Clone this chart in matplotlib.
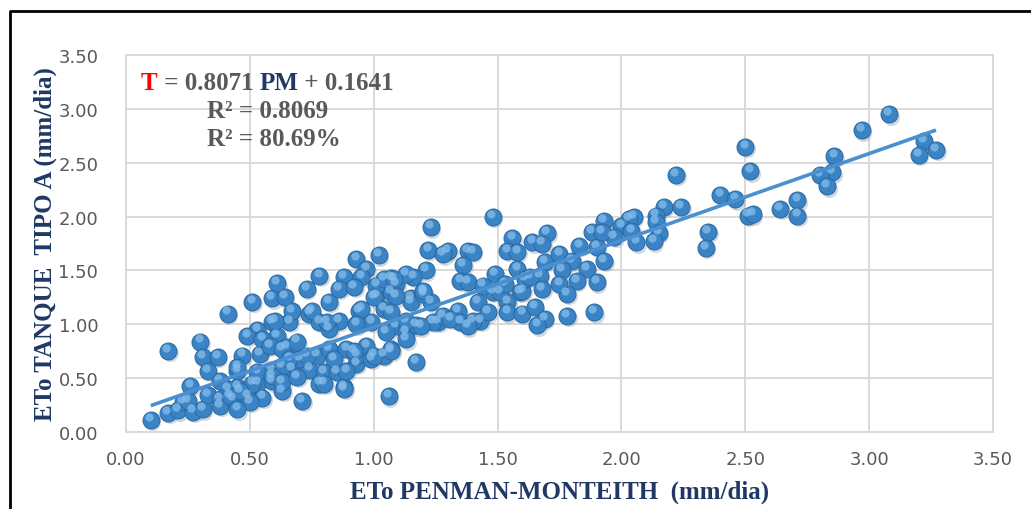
import matplotlib.pyplot as plt
import matplotlib.transforms as mtransforms
from matplotlib.lines import Line2D
import numpy as np

# ETo Penman-Monteith (x) vs ETo Tanque Tipo A (y), mm/dia
pm = [
    0.10, 0.17, 0.21, 0.23, 0.27, 0.31, 0.33, 0.38, 0.38, 0.43, 0.45, 0.49, 0.53, 0.55,
    0.59, 0.63, 0.71, 0.67, 0.78, 0.74, 0.17, 0.30, 0.31, 0.37, 0.33, 0.41, 0.51, 0.59,
    0.53, 0.49, 0.59, 0.66, 0.67, 0.73, 0.74, 0.78, 0.47, 0.54, 0.45, 0.59, 0.63, 0.70,
    0.77, 0.61, 0.55, 0.65, 0.51, 0.41,
    0.26, 0.38, 0.25, 0.42, 0.50, 0.46, 0.45, 0.45, 0.53, 0.59, 0.63, 0.69, 0.88, 0.80,
    0.85, 0.93, 0.58, 0.63, 0.69, 0.66, 0.73, 0.82, 0.89, 0.84, 0.93, 0.97, 0.99, 1.07,
    1.04, 1.17, 1.06,
    0.64, 0.82, 1.01, 1.07, 1.09, 1.20, 1.23, 1.15, 0.75, 0.60, 0.86, 0.94, 0.99, 1.04,
    1.09, 1.13, 1.17, 1.26,
    1.02, 0.93, 0.97, 0.88, 0.95, 1.07, 0.78, 0.61, 0.86, 0.92, 1.01, 1.04,
    0.88, 0.89, 0.80, 1.07, 1.00, 0.92, 0.82, 0.95, 0.93, 1.05, 1.13, 1.13, 1.07, 1.15,
    1.20, 1.09, 1.00, 1.24, 1.19, 1.34, 1.35, 1.42, 1.43, 1.46, 1.40, 1.38, 1.54, 1.54,
    1.60, 1.59, 1.48, 0.81, 1.28, 1.31,
    1.48, 1.23, 1.56, 1.70, 1.64, 1.68, 1.54, 1.58, 1.22, 1.30, 1.28, 1.38, 1.40, 1.36,
    1.35, 1.38, 1.49, 1.58, 1.69, 1.75, 1.80, 1.83, 1.88, 1.93, 1.90, 1.93, 1.86, 1.76,
    1.82, 1.90, 1.60, 1.67, 1.78, 1.21, 1.16, 1.13, 1.08, 1.20, 1.44, 1.51,
    1.78, 1.89, 1.65, 1.69, 1.66, 1.61, 1.53, 1.63, 1.75, 1.68,
    2.05, 2.03, 2.00, 2.04, 2.06, 1.97, 1.92,
    3.08, 2.97, 3.22, 3.27, 3.20, 2.86, 2.50, 2.52, 2.85, 2.80, 2.83, 2.22, 2.17, 2.24,
    2.40, 2.46, 2.51, 2.53, 2.64, 2.71, 2.71, 2.35, 2.34, 2.14, 2.14, 2.15, 2.13,
]
tanque = [
    0.11, 0.18, 0.20, 0.28, 0.19, 0.21, 0.34, 0.31, 0.24, 0.31, 0.42, 0.33, 0.45, 0.32,
    0.47, 0.38, 0.29, 0.58, 0.45, 0.58, 0.75, 0.84, 0.70, 0.70, 0.57, 1.10, 1.21, 1.24,
    0.95, 0.89, 1.02, 1.02, 1.12, 1.33, 1.10, 1.02, 0.71, 0.72, 0.57, 0.58, 0.61, 0.68,
    0.71, 0.89, 0.86, 0.79, 0.45, 0.40,
    0.43, 0.47, 0.29, 0.33, 0.28, 0.38, 0.21, 0.60, 0.56, 0.52, 0.46, 0.51, 0.42, 0.56,
    0.56, 0.63, 0.80, 0.77, 0.84, 0.68, 0.71, 0.77, 0.77, 0.68, 0.71, 0.80, 0.68, 0.77,
    0.71, 0.65, 0.33,
    1.25, 1.21, 1.26, 1.30, 1.37, 1.30, 1.21, 1.24, 1.12, 1.03, 1.03, 1.12, 1.02, 1.14,
    0.98, 0.93, 0.99, 1.02,
    1.64, 1.61, 1.51, 1.44, 1.44, 1.43, 1.45, 1.38, 1.33, 1.35, 1.36, 1.42,
    0.40, 0.57, 0.45, 0.75, 0.71, 0.75, 0.96, 1.14, 1.00, 0.93, 0.86, 1.03, 1.11, 1.21,
    1.28, 1.26, 1.25, 1.02, 0.98, 1.12, 1.02, 1.21, 1.03, 1.11, 1.03, 0.98, 1.21, 1.11,
    1.10, 1.30, 1.30, 1.02, 1.08, 1.05,
    2.00, 1.90, 1.80, 1.85, 1.76, 1.75, 1.68, 1.67, 1.69, 1.68, 1.65, 1.68, 1.67, 1.55,
    1.40, 1.39, 1.47, 1.51, 1.58, 1.65, 1.59, 1.73, 1.86, 1.96, 1.72, 1.59, 1.51, 1.50,
    1.40, 1.39, 1.31, 1.45, 1.28, 1.50, 1.44, 1.47, 1.42, 1.31, 1.36, 1.30,
    1.08, 1.11, 1.16, 1.05, 0.99, 1.42, 1.37, 1.44, 1.37, 1.33,
    2.00, 1.98, 1.91, 1.87, 1.76, 1.81, 1.86,
    2.95, 2.80, 2.70, 2.62, 2.57, 2.56, 2.65, 2.42, 2.41, 2.39, 2.28, 2.39, 2.09, 2.09,
    2.20, 2.16, 2.01, 2.02, 2.07, 2.15, 2.01, 1.86, 1.71, 2.01, 1.95, 1.85, 1.77,
]
slope, intercept = 0.8071, 0.1641
ticks = [0.0, 0.5, 1.0, 1.5, 2.0, 2.5, 3.0, 3.5]

navy = "#1f3864"
gray_txt = "#595959"
grid_c = "#d9d9d9"

fig = plt.figure(figsize=(10.31, 5.10), dpi=100)
ax = fig.add_axes([0.1222, 0.151, 0.8409, 0.739])

ax.set_xlim(0, 3.5)
ax.set_ylim(0, 3.5)
ax.set_xticks(ticks)
ax.set_yticks(ticks)
ax.xaxis.set_major_formatter(lambda v, p: f"{v:.2f}")
ax.yaxis.set_major_formatter(lambda v, p: f"{v:.2f}")
ax.tick_params(length=0, labelsize=13, labelcolor=gray_txt)
ax.tick_params(axis="x", pad=13)
ax.tick_params(axis="y", pad=20)
ax.grid(True, color=grid_c, lw=1.4)
ax.set_axisbelow(True)
for s in ax.spines.values():
    s.set_color(grid_c)
    s.set_linewidth(1.4)

# spheres: shadow, body, highlight
x = np.array(pm)
y = np.array(tanque)
shadow = mtransforms.offset_copy(ax.transData, fig=fig, x=1.2, y=-1.6, units="points")
hilite = mtransforms.offset_copy(ax.transData, fig=fig, x=-1.2, y=2.2, units="points")
ax.scatter(x, y, s=150, color="#9aa9b8", alpha=0.45, lw=0, transform=shadow, zorder=2)
ax.scatter(x, y, s=150, color="#3a84c6", edgecolor="#2a679f", lw=0.7, zorder=3)
ax.scatter(x, y, s=35, color="#86bdea", alpha=0.75, lw=0, transform=hilite, zorder=4)

xl = np.array([x.min(), x.max()])
ax.plot(xl, slope * xl + intercept, color="#4a8fd0", lw=2.6, zorder=5, solid_capstyle="butt")

ax.set_xlabel("ETo PENMAN-MONTEITH  (mm/dia)", family="Liberation Serif", fontweight="bold",
              fontsize=18, color=navy, labelpad=8)
fig.text(0.044, 0.521, "ETo TANQUE  TIPO A (mm/dia)", rotation=90, ha="center", va="center",
         family="Liberation Serif", fontweight="bold", fontsize=18, color=navy)

# equation box
eq = dict(family="Liberation Serif", fontweight="bold", fontsize=18)
t1 = fig.text(0.1367, 0.814, "T", color="red", va="bottom", **eq)
t2 = ax.annotate(" = 0.8071 ", xy=(1, 0), xycoords=t1, va="bottom", color=gray_txt, **eq)
t3 = ax.annotate("PM", xy=(1, 0), xycoords=t2, va="bottom", color=navy, **eq)
ax.annotate(" + 0.1641", xy=(1, 0), xycoords=t3, va="bottom", color=gray_txt, **eq)
fig.text(0.2008, 0.758, "R² = 0.8069", color=gray_txt, va="bottom", **eq)
fig.text(0.2008, 0.703, "R² = 80.69%", color=gray_txt, va="bottom", **eq)

# chart frame (left and top)
fig.add_artist(Line2D([0.0097, 0.0097, 1.0], [0.0, 0.976, 0.976], transform=fig.transFigure,
                      color="black", lw=2))

fig.savefig("out.png", dpi=100)
